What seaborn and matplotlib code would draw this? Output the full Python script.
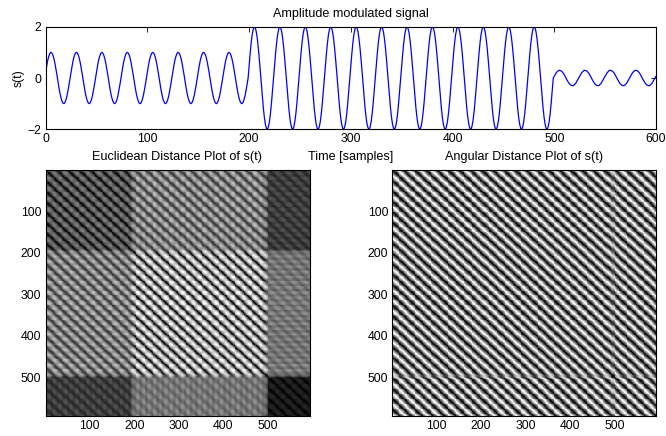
import numpy as np
import pandas as pd
import matplotlib
matplotlib.use('Agg')
import matplotlib.pyplot as plt
import seaborn as sns

# signal, one value per sample, one row per 25 sample cycle
signal_low = [
    .25, .48, .69, .84, .95, 1.0, .98, .90, .77, .59, .37, .13, -.13, -.37, -.59, -.77, -.90, -.98, -1.0, -.95, -.84, -.69, -.48, -.25, 0,
    .25, .48, .69, .84, .95, 1.0, .98, .90, .77, .59, .37, .13, -.13, -.37, -.59, -.77, -.90, -.98, -1.0, -.95, -.84, -.69, -.48, -.25, 0,
    .25, .48, .69, .84, .95, 1.0, .98, .90, .77, .59, .37, .13, -.13, -.37, -.59, -.77, -.90, -.98, -1.0, -.95, -.84, -.69, -.48, -.25, 0,
    .25, .48, .69, .84, .95, 1.0, .98, .90, .77, .59, .37, .13, -.13, -.37, -.59, -.77, -.90, -.98, -1.0, -.95, -.84, -.69, -.48, -.25, 0,
    .25, .48, .69, .84, .95, 1.0, .98, .90, .77, .59, .37, .13, -.13, -.37, -.59, -.77, -.90, -.98, -1.0, -.95, -.84, -.69, -.48, -.25, 0,
    .25, .48, .69, .84, .95, 1.0, .98, .90, .77, .59, .37, .13, -.13, -.37, -.59, -.77, -.90, -.98, -1.0, -.95, -.84, -.69, -.48, -.25, 0,
    .25, .48, .69, .84, .95, 1.0, .98, .90, .77, .59, .37, .13, -.13, -.37, -.59, -.77, -.90, -.98, -1.0, -.95, -.84, -.69, -.48, -.25, 0,
    .25, .48, .69, .84, .95, 1.0, .98, .90, .77, .59, .37, .13, -.13, -.37, -.59, -.77, -.90, -.98, -1.0, -.95, -.84, -.69, -.48, -.25, 0,
]
signal_high = [
    .50, .96, 1.37, 1.69, 1.90, 2.0, 1.96, 1.81, 1.54, 1.18, .74, .25, -.25, -.74, -1.18, -1.54, -1.81, -1.96, -2.0, -1.90, -1.69, -1.37, -.96, -.50, 0,
    .50, .96, 1.37, 1.69, 1.90, 2.0, 1.96, 1.81, 1.54, 1.18, .74, .25, -.25, -.74, -1.18, -1.54, -1.81, -1.96, -2.0, -1.90, -1.69, -1.37, -.96, -.50, 0,
    .50, .96, 1.37, 1.69, 1.90, 2.0, 1.96, 1.81, 1.54, 1.18, .74, .25, -.25, -.74, -1.18, -1.54, -1.81, -1.96, -2.0, -1.90, -1.69, -1.37, -.96, -.50, 0,
    .50, .96, 1.37, 1.69, 1.90, 2.0, 1.96, 1.81, 1.54, 1.18, .74, .25, -.25, -.74, -1.18, -1.54, -1.81, -1.96, -2.0, -1.90, -1.69, -1.37, -.96, -.50, 0,
    .50, .96, 1.37, 1.69, 1.90, 2.0, 1.96, 1.81, 1.54, 1.18, .74, .25, -.25, -.74, -1.18, -1.54, -1.81, -1.96, -2.0, -1.90, -1.69, -1.37, -.96, -.50, 0,
    .50, .96, 1.37, 1.69, 1.90, 2.0, 1.96, 1.81, 1.54, 1.18, .74, .25, -.25, -.74, -1.18, -1.54, -1.81, -1.96, -2.0, -1.90, -1.69, -1.37, -.96, -.50, 0,
    .50, .96, 1.37, 1.69, 1.90, 2.0, 1.96, 1.81, 1.54, 1.18, .74, .25, -.25, -.74, -1.18, -1.54, -1.81, -1.96, -2.0, -1.90, -1.69, -1.37, -.96, -.50, 0,
    .50, .96, 1.37, 1.69, 1.90, 2.0, 1.96, 1.81, 1.54, 1.18, .74, .25, -.25, -.74, -1.18, -1.54, -1.81, -1.96, -2.0, -1.90, -1.69, -1.37, -.96, -.50, 0,
    .50, .96, 1.37, 1.69, 1.90, 2.0, 1.96, 1.81, 1.54, 1.18, .74, .25, -.25, -.74, -1.18, -1.54, -1.81, -1.96, -2.0, -1.90, -1.69, -1.37, -.96, -.50, 0,
    .50, .96, 1.37, 1.69, 1.90, 2.0, 1.96, 1.81, 1.54, 1.18, .74, .25, -.25, -.74, -1.18, -1.54, -1.81, -1.96, -2.0, -1.90, -1.69, -1.37, -.96, -.50, 0,
    .50, .96, 1.37, 1.69, 1.90, 2.0, 1.96, 1.81, 1.54, 1.18, .74, .25, -.25, -.74, -1.18, -1.54, -1.81, -1.96, -2.0, -1.90, -1.69, -1.37, -.96, -.50, 0,
    .50, .96, 1.37, 1.69, 1.90, 2.0, 1.96, 1.81, 1.54, 1.18, .74, .25, -.25, -.74, -1.18, -1.54, -1.81, -1.96, -2.0, -1.90, -1.69, -1.37, -.96, -.50, 0,
]
signal_tail = [
    .07, .14, .21, .25, .29, .30, .29, .27, .23, .18, .11, .04, -.04, -.11, -.18, -.23, -.27, -.29, -.30, -.29, -.25, -.21, -.14, -.07, 0,
    .07, .14, .21, .25, .29, .30, .29, .27, .23, .18, .11, .04, -.04, -.11, -.18, -.23, -.27, -.29, -.30, -.29, -.25, -.21, -.14, -.07, 0,
    .07, .14, .21, .25, .29, .30, .29, .27, .23, .18, .11, .04, -.04, -.11, -.18, -.23, -.27, -.29, -.30, -.29, -.25, -.21, -.14, -.07, 0,
    .07, .14, .21, .25, .29, .30, .29, .27, .23, .18, .11, .04, -.04, -.11, -.18, -.23, -.27, -.29, -.30, -.29, -.25, -.21, -.14, -.07, 0,
    .07,
]
signal_ticks = [0, 100, 200, 300, 400, 500, 600]
level_ticks = [-2, 0, 2]
matrix_ticks = [100, 200, 300, 400, 500]

delay = 5  # samples between embedding coordinates
keep_every = 2  # only every second matrix row/column is drawn, so cells fit the pixels


def embed(s):
    return np.column_stack([s[:-2 * delay], s[delay:-delay], s[2 * delay:]])


def euclidean_matrix(v):
    d = v[:, None, :] - v[None, :, :]
    return np.sqrt((d ** 2).sum(axis=2))


def angular_matrix(v):
    n = np.linalg.norm(v, axis=1)
    c = (v @ v.T) / np.outer(n, n)
    return np.arccos(np.clip(c, -1, 1))


def style_axes(ax):
    ax.tick_params(direction='in', length=3.5, width=0.6, top=True, right=True,
                   labelsize=8.8, pad=3, color='black', labelcolor='black')
    for sp in ax.spines.values():
        sp.set_visible(True)
        sp.set_linewidth(0.8)
        sp.set_color('black')


def draw_matrix(ax, m, title):
    sns.heatmap(m[::keep_every, ::keep_every], ax=ax, cmap='gray', cbar=False, square=False,
                xticklabels=False, yticklabels=False, rasterized=True)
    pos = [t / keep_every - 0.5 for t in matrix_ticks]
    ax.set_xticks(pos, labels=[str(t) for t in matrix_ticks], rotation=0)
    ax.set_yticks(pos, labels=[str(t) for t in matrix_ticks], rotation=0)
    ax.set_title(title, fontsize=9.05, pad=7.5, color='black')
    style_axes(ax)


sns.set_theme(style='white')
plt.rcParams['font.family'] = ['Liberation Sans', 'DejaVu Sans']

signal = np.array(signal_low + signal_high + signal_tail)
df = pd.DataFrame({'t': np.arange(len(signal)), 's': signal})

W, H = 666, 436
fig = plt.figure(figsize=(W / 100, H / 100), dpi=100, facecolor='white')


def box(l, t, r, b):
    return [l / W, 1 - b / H, (r - l) / W, (b - t) / H]


ax_top = fig.add_axes(box(45.7, 26.7, 656, 129.3))
sns.lineplot(data=df, x='t', y='s', ax=ax_top, color='#0000ff', linewidth=0.9, errorbar=None)
ax_top.set_xlim(0, 600)
ax_top.set_ylim(-2, 2)
ax_top.set_xticks(signal_ticks)
ax_top.set_yticks(level_ticks)
ax_top.set_title('Amplitude modulated signal', fontsize=9.1, pad=7, color='black')
ax_top.set_xlabel('Time [samples]', fontsize=9.05, labelpad=4, color='black')
ax_top.set_ylabel('s(t)', fontsize=8.8, labelpad=2, color='black')
style_axes(ax_top)

vectors = embed(signal)
ax_left = fig.add_axes(box(45.5, 170, 309.5, 416))
draw_matrix(ax_left, euclidean_matrix(vectors), 'Euclidean Distance Plot of s(t)')
ax_right = fig.add_axes(box(392.3, 170, 656, 416))
draw_matrix(ax_right, angular_matrix(vectors), 'Angular Distance Plot of s(t)')

fig.savefig('out.png', dpi=100)
